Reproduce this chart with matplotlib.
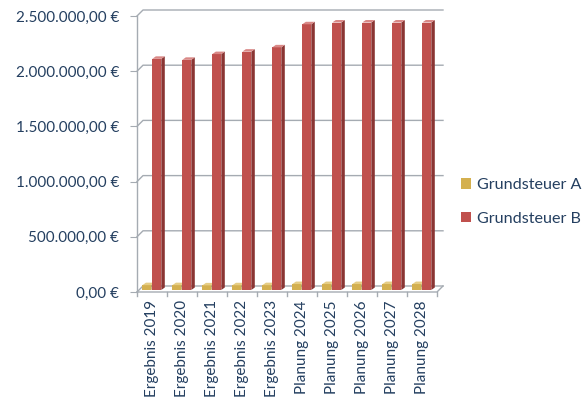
import numpy as np
import matplotlib
matplotlib.use('Agg')
import matplotlib.pyplot as plt
from matplotlib.patches import Polygon, Rectangle

plt.rcParams['font.family'] = ['Lato', 'DejaVu Sans']

# data
years = ['Ergebnis 2019', 'Ergebnis 2020', 'Ergebnis 2021', 'Ergebnis 2022', 'Ergebnis 2023',
         'Planung 2024', 'Planung 2025', 'Planung 2026', 'Planung 2027', 'Planung 2028']
steuer_a = [62000, 62000, 60000, 61000, 62000, 72000, 72000, 72000, 72000, 72000]
steuer_b = [2112000, 2103000, 2155000, 2177000, 2216000, 2425000, 2441000, 2441000, 2441000, 2441000]
y_ticks = [0, 500000, 1000000, 1500000, 2000000, 2500000]

txt_col = '#243f60'
line_col = '#a5abb2'
col_a = ('#d4b04f', '#a88a37', '#e6cd85')   # front, side, top
col_b = ('#c0504d', '#8a3533', '#d98886')

W, H = 586, 405
fig = plt.figure(figsize=(W / 100, H / 100), dpi=100)
ax_l, ax_b, ax_w, ax_h = 137, 292, 300, 276
ax = fig.add_axes([ax_l / W, 1 - ax_b / H, ax_w / W, ax_h / H])
n = len(years)
ax.set_xlim(0, n)
ax.set_ylim(0, 2500000)
for s in ax.spines.values():
    s.set_visible(False)

sx = n / ax_w           # data units per pixel
sy = 2500000 / ax_h

# back wall (offset in depth)
dx, dy = 6 * sx, 6 * sy
for v in y_ticks:
    ax.plot([0, dx, n + dx], [v, v + dy, v + dy], color=line_col, lw=1, clip_on=False, zorder=1)
ax.plot([0, 0], [0, 2500000], color=line_col, lw=1, clip_on=False, zorder=1)
ax.plot([0, n, n + dx], [0, 0, dy], color=line_col, lw=1, clip_on=False, zorder=1)
for i in range(n + 1):
    ax.plot([i, i], [0, -4 * sy], color=line_col, lw=1, clip_on=False)


def bar3d(x, w, h, cols):
    bx, by = 3.5 * sx, 2.5 * sy
    x0, y0 = x - w / 2, 2 * sy
    ax.add_patch(Rectangle((x0, y0), w, h - y0, facecolor=cols[0], edgecolor='none', zorder=3))
    ax.add_patch(Polygon([(x0 + w, y0), (x0 + w, h), (x0 + w + bx, h + by), (x0 + w + bx, y0 + by)],
                         closed=True, facecolor=cols[1], edgecolor='none', zorder=3))
    ax.add_patch(Polygon([(x0, h), (x0 + w, h), (x0 + w + bx, h + by), (x0 + bx, h + by)],
                         closed=True, facecolor=cols[2], edgecolor='none', zorder=3))


bw = 0.3
xs = np.arange(n) + 0.5
for x, a, b in zip(xs, steuer_a, steuer_b):
    bar3d(x - 0.17, bw, a, col_a)
    bar3d(x + 0.16, bw, b, col_b)

ax.set_yticks(y_ticks)
ax.set_yticklabels([f'{v:,.2f} €'.replace(',', 'X').replace('.', ',').replace('X', '.') for v in y_ticks])
ax.tick_params(axis='y', length=5, color=line_col, pad=8, labelsize=11, labelcolor=txt_col)
ax.set_xticks(xs)
ax.set_xticklabels(years, rotation=90)
ax.tick_params(axis='x', length=0, pad=6, labelsize=11, labelcolor=txt_col)

handles = [Rectangle((0, 0), 1, 1, facecolor=col_a[0]), Rectangle((0, 0), 1, 1, facecolor=col_b[0])]
fig.legend(handles, ['Grundsteuer A', 'Grundsteuer B'], loc='center left',
           bbox_to_anchor=(446 / W, 1 - 202 / H), frameon=False, fontsize=11.6,
           handlelength=0.65, handleheight=0.65, handletextpad=0.4, labelspacing=1.2,
           labelcolor=txt_col)

fig.savefig('out.png', dpi=100)
